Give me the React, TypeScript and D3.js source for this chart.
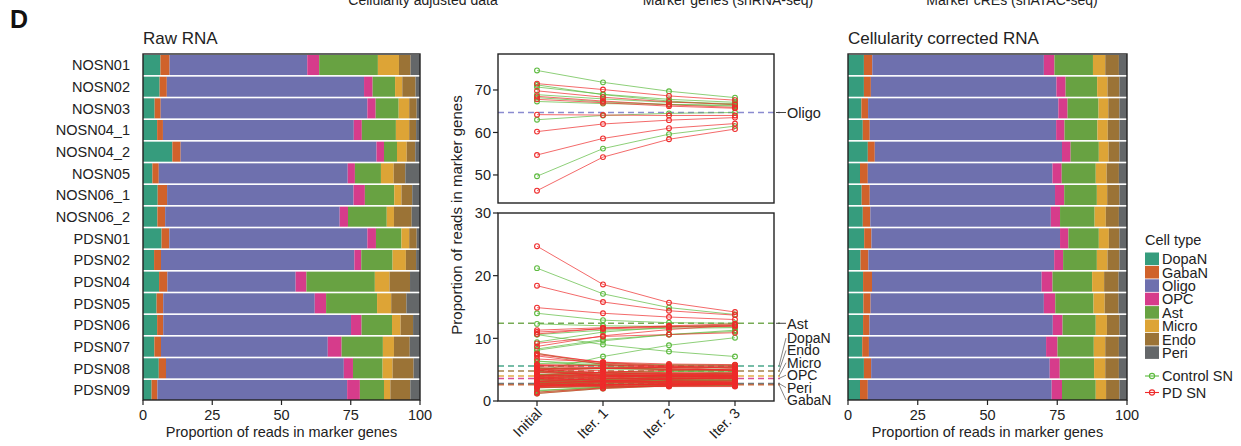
import React from "react";
import * as d3 from "d3";

const samples = ["NOSN01","NOSN02","NOSN03","NOSN04_1","NOSN04_2","NOSN05","NOSN06_1","NOSN06_2","PDSN01","PDSN02","PDSN04","PDSN05","PDSN06","PDSN07","PDSN08","PDSN09"];
const groups = ["Control","Control","Control","Control","Control","Control","Control","Control","PD","PD","PD","PD","PD","PD","PD","PD"];
const cellTypes = ["DopaN","GabaN","Oligo","OPC","Ast","Micro","Endo","Peri"];
const cellColors = ["#369c7d","#d0622b","#6e70ae","#d63c8b","#68a242","#dda436","#9b7336","#646769"];

// Raw RNA proportions (Initial)
const rawDopaN = [6.3,6.0,4.2,5.1,10.6,3.4,5.3,5.2,6.7,4.0,5.8,4.9,5.1,4.1,5.7,3.1];
const rawGabaN = [3.3,2.6,2.2,2.1,3.0,2.3,3.4,2.8,2.8,2.5,3.0,2.4,2.2,2.4,2.6,2.1];
const rawOligo = [49.7,71.2,74.6,68.9,70.7,68.2,67.3,63.0,71.5,69.8,46.3,54.7,67.8,60.2,64.2,68.5];
const rawOPC = [4.3,3.1,3.0,2.9,2.7,2.6,4.1,3.0,3.1,2.5,3.9,4.1,3.8,5.0,3.3,4.6];
const rawAst = [21.2,8.1,8.3,12.3,4.7,9.4,10.6,14.0,9.2,11.3,24.7,18.4,11.0,14.9,10.7,8.7];
const rawMicro = [7.6,2.6,3.8,4.8,3.5,4.6,2.6,2.6,2.8,4.8,5.3,5.1,3.1,4.0,3.6,2.3];
const rawEndo = [4.2,4.8,2.7,2.5,3.1,4.2,3.9,6.4,2.7,3.7,7.4,5.5,4.5,5.7,7.6,7.2];
const rawPeri = [3.4,1.6,1.2,1.4,1.7,5.3,2.8,3.0,1.2,1.4,3.6,4.9,2.5,3.7,2.3,3.5];

// Cellularity corrected RNA (Iter. 3)
const corDopaN = [5.7,5.7,4.8,5.3,7.1,4.3,4.9,5.3,5.8,4.5,5.4,5.5,5.4,5.1,5.7,4.3];
const corGabaN = [3.0,2.5,2.4,2.5,2.5,2.8,2.9,2.7,2.6,2.8,3.2,2.6,2.3,2.4,2.6,2.8];
const corOligo = [61.5,66.5,68.2,66.8,67.1,66.2,66.4,64.7,67.6,66.6,60.8,62.1,65.7,63.5,64.0,65.9];
const corOPC = [3.8,3.3,3.3,3.0,3.1,3.3,3.3,3.3,3.0,3.2,3.9,4.1,3.5,4.1,3.6,3.7];
const corAst = [13.8,11.3,11.1,11.8,10.1,12.2,11.7,12.4,10.9,12.1,14.2,13.7,11.9,13.0,12.3,12.1];
const corMicro = [4.4,3.7,3.5,3.7,3.5,3.9,3.7,4.0,3.6,3.8,4.3,4.0,4.0,4.1,4.0,3.7];
const corEndo = [4.9,4.3,4.0,4.2,3.9,4.4,4.4,4.7,3.8,4.3,5.2,5.0,4.5,4.9,4.9,4.8];
const corPeri = [2.9,2.7,2.7,2.7,2.7,2.9,2.7,2.9,2.7,2.7,3.0,3.0,2.7,2.9,2.9,2.7];

// Iteration 1
const it1DopaN = [6.0,5.8,4.5,5.2,9.0,3.9,5.1,5.2,6.2,4.3,5.6,5.2,5.3,4.6,5.7,3.8];
const it1GabaN = [3.1,2.5,2.3,2.3,2.7,2.6,3.1,2.7,2.7,2.7,3.1,2.5,2.3,2.4,2.6,2.5];
const it1Oligo = [56.2,68.9,71.8,67.9,69.0,67.2,66.8,64.0,70.1,68.3,54.2,58.6,67.0,62.0,64.1,67.4];
const it1OPC = [4.0,3.2,3.2,3.0,2.9,3.0,3.7,3.2,3.0,2.9,3.9,4.1,3.6,4.5,3.5,4.1];
const it1Ast = [17.1,9.6,9.8,12.0,7.1,11.0,11.3,12.9,10.3,11.7,18.6,15.8,11.5,14.0,11.6,10.4];
const it1Micro = [5.8,3.2,3.6,4.2,3.5,4.2,3.2,3.4,3.2,4.3,4.8,4.5,3.6,4.1,3.8,3.1];
const it1Endo = [4.6,4.5,3.4,3.4,3.5,4.3,4.2,5.5,3.3,4.0,6.2,5.2,4.5,5.3,6.1,5.9];
const it1Peri = [3.1,2.2,2.0,2.1,2.2,4.0,2.7,2.9,2.0,2.1,3.3,3.9,2.6,3.3,2.6,3.1];

// Iteration 2
const it2DopaN = [5.8,5.7,4.7,5.3,7.9,4.1,5.0,5.3,5.9,4.4,5.5,5.4,5.4,4.9,5.7,4.1];
const it2GabaN = [3.0,2.5,2.4,2.4,2.6,2.7,3.0,2.7,2.6,2.8,3.2,2.6,2.3,2.4,2.6,2.7];
const it2Oligo = [59.6,67.4,69.7,67.1,67.8,66.6,66.6,64.5,68.6,67.2,58.4,61.0,66.2,62.9,64.0,66.5];
const it2OPC = [3.9,3.3,3.3,3.0,3.0,3.2,3.4,3.3,3.0,3.1,3.9,4.1,3.5,4.2,3.6,3.8];
const it2Ast = [14.9,10.6,10.6,11.9,8.9,11.8,11.6,12.5,10.6,11.9,15.7,14.4,11.8,13.4,12.0,11.4];
const it2Micro = [4.9,3.5,3.5,3.9,3.5,4.0,3.5,3.8,3.5,4.0,4.5,4.2,3.8,4.1,3.9,3.5];
const it2Endo = [4.8,4.4,3.8,3.9,3.8,4.4,4.3,5.0,3.6,4.2,5.6,5.1,4.5,5.0,5.4,5.2];
const it2Peri = [3.0,2.5,2.4,2.5,2.5,3.3,2.7,2.9,2.4,2.5,3.1,3.3,2.7,3.0,2.8,2.9];

const refValues = [5.6,2.6,64.7,3.6,12.4,4.0,4.8,2.8];
const iterLabels = ["Initial","Iter. 1","Iter. 2","Iter. 3"];
const barTicks = [0,25,50,75,100];
const upperTicks = [50,60,70];
const lowerTicks = [0,10,20,30];

const rawCols = [rawDopaN,rawGabaN,rawOligo,rawOPC,rawAst,rawMicro,rawEndo,rawPeri];
const corCols = [corDopaN,corGabaN,corOligo,corOPC,corAst,corMicro,corEndo,corPeri];
const it1Cols = [it1DopaN,it1GabaN,it1Oligo,it1OPC,it1Ast,it1Micro,it1Endo,it1Peri];
const it2Cols = [it2DopaN,it2GabaN,it2Oligo,it2OPC,it2Ast,it2Micro,it2Endo,it2Peri];

const FONT = "'Liberation Sans', Arial, Helvetica, sans-serif";
const groupColor: Record<string,string> = { Control: "#5cba3e", PD: "#ee2b2b" };

function tableFrom(cols: number[][]) {
  return samples.map((s, i) => {
    const row: any = { sample: s };
    cellTypes.forEach((c, j) => (row[c] = cols[j][i]));
    return row;
  });
}

function BarPanel({ x0, x1, title, cols, showLabels }: { x0: number; x1: number; title: string; cols: number[][]; showLabels: boolean }) {
  const top = 54, bottom = 400;
  const x = d3.scaleLinear().domain([0, 100]).range([x0, x1]);
  const y = d3.scaleBand<string>().domain(samples).range([top + 1, bottom]).paddingInner(0.075);
  const stack = d3.stack<any>().keys(cellTypes);
  const series = stack(tableFrom(cols));
  return (
    <g>
      <text x={x0} y={44} fontSize={17} fill="#222">{title}</text>
      {series.map((s, k) => (
        <g key={k} fill={cellColors[k]}>
          {s.map((d, i) => (
            <rect key={i} x={x(d[0])} y={y(samples[i])!} width={Math.max(0, x(Math.min(d[1], 100)) - x(d[0]))} height={y.bandwidth()} />
          ))}
        </g>
      ))}
      <rect x={x0} y={top} width={x1 - x0} height={bottom - top} fill="none" stroke="#222" strokeWidth={1.4} />
      {showLabels && samples.map((s) => (
        <text key={s} x={130} y={y(s)! + y.bandwidth() / 2} dy="0.36em" textAnchor="end" fontSize={14.5} fill="#222">{s}</text>
      ))}
      {barTicks.map((t) => (
        <g key={t}>
          <line x1={x(t)} x2={x(t)} y1={bottom} y2={bottom + 5} stroke="#222" strokeWidth={1.2} />
          <text x={x(t)} y={420} textAnchor="middle" fontSize={14.5} fill="#222">{t}</text>
        </g>
      ))}
      <text x={(x0 + x1) / 2} y={437} textAnchor="middle" fontSize={14.5} fill="#222">Proportion of reads in marker genes</text>
    </g>
  );
}

function LinePanel() {
  const bx0 = 498, bx1 = 774;
  const x = d3.scalePoint<string>().domain(iterLabels).range([537, 735]);
  const yU = d3.scaleLinear().domain([43.4, 78.47]).range([203, 54]);
  const yL = d3.scaleLinear().domain([0, 30]).range([401, 213]);
  const iterCols = [rawCols, it1Cols, it2Cols, corCols];
  const line = d3.line<[number, number]>().x((d) => d[0]).y((d) => d[1]);
  const order = [0, 1, 3, 4, 5, 6, 7];
  const drawGroup = (grp: string, cells: number[], yS: d3.ScaleLinear<number, number>) =>
    cells.map((c) =>
      samples.map((s, i) => {
        if (groups[i] !== grp) return null;
        const pts: [number, number][] = iterLabels.map((lab, k) => [x(lab)!, yS(iterCols[k][c][i])]);
        return (
          <g key={grp + c + s}>
            <path d={line(pts)!} fill="none" stroke={groupColor[grp]} strokeOpacity={0.7} strokeWidth={1} />
            {pts.map((p, k) => (
              <circle key={k} cx={p[0]} cy={p[1]} r={2.4} fill="none" stroke={groupColor[grp]} strokeWidth={1.1} />
            ))}
          </g>
        );
      })
    );
  const lowerLabelOrder = [0, 6, 5, 3, 7, 1];
  return (
    <g>
      {/* upper panel */}
      <line x1={bx0} x2={780} y1={yU(refValues[2])} y2={yU(refValues[2])} stroke="#8a8bd0" strokeWidth={1.5} strokeDasharray="6,4" />
      {drawGroup("Control", [2], yU)}
      {drawGroup("PD", [2], yU)}
      <rect x={bx0} y={54} width={bx1 - bx0} height={149} fill="none" stroke="#222" strokeWidth={1.4} />
      <line x1={776} x2={786} y1={yU(refValues[2])} y2={yU(refValues[2])} stroke="#444" strokeWidth={1} />
      <text x={787} y={yU(refValues[2])} dy="0.36em" fontSize={14.5} fill="#222">Oligo</text>
      {upperTicks.map((t) => (
        <g key={t}>
          <line x1={bx0 - 5} x2={bx0} y1={yU(t)} y2={yU(t)} stroke="#222" strokeWidth={1.2} />
          <text x={bx0 - 7} y={yU(t)} dy="0.36em" textAnchor="end" fontSize={14.5} fill="#222">{t}</text>
        </g>
      ))}
      {/* lower panel */}
      {order.map((c) => (
        <line key={c} x1={bx0} x2={780} y1={yL(refValues[c])} y2={yL(refValues[c])} stroke={cellColors[c]} strokeOpacity={0.9} strokeWidth={1.5} strokeDasharray="6,4" />
      ))}
      {drawGroup("Control", order, yL)}
      {drawGroup("PD", order, yL)}
      <rect x={bx0} y={213} width={bx1 - bx0} height={188} fill="none" stroke="#222" strokeWidth={1.4} />
      <line x1={776} x2={786} y1={yL(refValues[4])} y2={yL(refValues[4])} stroke="#444" strokeWidth={1} />
      <text x={787} y={yL(refValues[4])} dy="0.36em" fontSize={14.5} fill="#222">Ast</text>
      {lowerLabelOrder.map((c, i) => {
        const ly = 400 - (lowerLabelOrder.length - 1 - i) * 12.4;
        return (
          <g key={c}>
            <line x1={779} x2={786} y1={yL(refValues[c])} y2={ly} stroke="#777" strokeWidth={0.9} />
            <text x={787} y={ly} dy="0.36em" fontSize={14} fill="#222">{cellTypes[c]}</text>
          </g>
        );
      })}
      {lowerTicks.map((t) => (
        <g key={t}>
          <line x1={bx0 - 5} x2={bx0} y1={yL(t)} y2={yL(t)} stroke="#222" strokeWidth={1.2} />
          <text x={bx0 - 7} y={yL(t)} dy="0.36em" textAnchor="end" fontSize={14.5} fill="#222">{t}</text>
        </g>
      ))}
      {iterLabels.map((lab) => (
        <g key={lab}>
          <line x1={x(lab)!} x2={x(lab)!} y1={401} y2={406} stroke="#222" strokeWidth={1.2} />
          <text transform={`translate(${x(lab)! + 6},${414}) rotate(-45)`} textAnchor="end" fontSize={14.5} fill="#222">{lab}</text>
        </g>
      ))}
      <text transform="translate(462,215) rotate(-90)" textAnchor="middle" fontSize={15} fill="#222">Proportion of reads in marker genes</text>
    </g>
  );
}

function Legend() {
  const lx = 1145;
  return (
    <g>
      <text x={lx} y={245} fontSize={14.5} fill="#222">Cell type</text>
      {cellTypes.map((c, i) => (
        <g key={c}>
          <rect x={lx} y={252.5 + i * 13.4} width={14} height={12.6} fill={cellColors[i]} />
          <text x={1162} y={259 + i * 13.4} dy="0.36em" fontSize={14.5} fill="#222">{c}</text>
        </g>
      ))}
      {["Control", "PD"].map((g, i) => (
        <g key={g}>
          <line x1={lx} x2={lx + 14} y1={376 + i * 16.5} y2={376 + i * 16.5} stroke={groupColor[g]} strokeWidth={1.1} />
          <circle cx={lx + 7} cy={376 + i * 16.5} r={2.6} fill="none" stroke={groupColor[g]} strokeWidth={1.1} />
          <text x={1162} y={376 + i * 16.5} dy="0.36em" fontSize={14.5} fill="#222">{g === "Control" ? "Control SN" : "PD SN"}</text>
        </g>
      ))}
    </g>
  );
}

export default function App() {
  return (
    <svg width={1241} height={446} style={{ position: "absolute", left: 0, top: 0, background: "#fff" }} fontFamily={FONT}>
      <rect width={1241} height={446} fill="#fff" />
      <text x={10} y={28} fontSize={25} fontWeight="bold" fill="#111">D</text>
      <text x={423} y={5} textAnchor="middle" fontSize={14} fill="#222">Cellularity adjusted data</text>
      <text x={728} y={5} textAnchor="middle" fontSize={14} fill="#222">Marker genes (snRNA-seq)</text>
      <text x={1012} y={5} textAnchor="middle" fontSize={14} fill="#222">Marker cREs (snATAC-seq)</text>
      <BarPanel x0={143} x1={420} title="Raw RNA" cols={rawCols} showLabels={true} />
      <LinePanel />
      <BarPanel x0={848} x1={1127} title="Cellularity corrected RNA" cols={corCols} showLabels={false} />
      <Legend />
    </svg>
  );
}
